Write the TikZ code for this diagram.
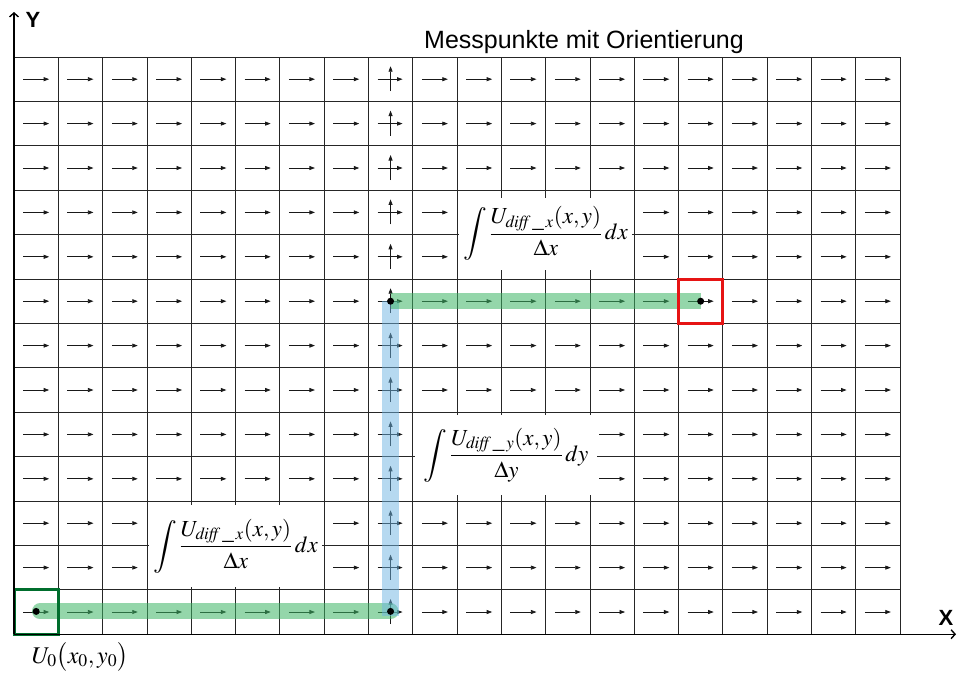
\documentclass[tikz,border=0pt]{standalone}
\usepackage{mathptmx}
\usepackage[no-math]{fontspec}
\setmainfont{Liberation Serif}
\setsansfont{Liberation Sans}
\usetikzlibrary{arrows.meta}
\definecolor{hgreen}{RGB}{60,180,100}
\definecolor{hblue}{RGB}{110,180,225}
\definecolor{boxgreen}{RGB}{0,110,45}
\definecolor{boxred}{RGB}{230,20,20}
\newcommand{\bigint}{\mathop{\vcenter{\hbox{\scalebox{1.15}{$\displaystyle\int$}}}}}
\begin{document}
\begin{tikzpicture}[x=1pt,y=-1pt,
  gridline/.style={line width=0.8pt, black!85},
  cellarrow/.style={line width=0.7pt, black!90, -{Triangle[length=5.5pt,width=4pt]}},
  axisline/.style={line width=1.4pt, -{Straight Barb[length=4pt,width=9pt]}},
  formula/.style={fill=white, inner sep=0pt, font=\fontsize{23}{27}\selectfont},
  greenpath/.style={line width=16pt, draw=hgreen, draw opacity=0.55},
  bluepath/.style={line width=17pt, draw=hblue, draw opacity=0.5},
  mdot/.style={fill=black, circle, inner sep=0pt, minimum size=7pt},
  markbox/.style={line width=3pt}]
\useasboundingbox (0,0) rectangle (957,673);
% grid
\foreach \i in {0,...,20} \draw[gridline] ({14+44.3*\i},57) -- ({14+44.3*\i},634.2);
\foreach \j in {0,...,13} \draw[gridline] (14,{57+44.4*\j}) -- (900,{57+44.4*\j});
% cell arrows
\foreach \i in {0,...,19} {
  \foreach \j in {0,...,12} {
    \pgfmathsetmacro{\cx}{14+44.3*(\i+0.5)}
    \pgfmathsetmacro{\cy}{57+44.4*(\j+0.5)}
    \ifnum\i=8
      \draw[cellarrow] ({\cx-13},\cy) -- ({\cx+12},\cy);
      \draw[cellarrow] (\cx,{\cy+12}) -- (\cx,{\cy-13});
    \else
      \draw[cellarrow] ({\cx-13},\cy) -- ({\cx+13},\cy);
    \fi
  }
}
% path points
\coordinate (p0) at (36.15,611.4);
\coordinate (p1) at (390.55,611.4);
\coordinate (p2) at (390.55,301.2);
\coordinate (p3) at (700.65,301.2);
\coordinate (p0s) at (40,611.4);
\coordinate (p1b) at (390.55,616);
% highlights
\draw[greenpath, line cap=round] (p0s) -- (p1);
\draw[bluepath] (p1b) -- (p2);
\draw[greenpath] (p2) -- (p3);
% dots
\node[mdot] (d0) at (p0) {};
\node[mdot] (d1) at (p1) {};
\node[mdot] (d2) at (p2) {};
\node[mdot] (d3) at (p3) {};
% marker boxes
\draw[markbox, boxgreen] (14,589.8) rectangle (58.3,634.2);
\draw[markbox, boxred] (678.5,279) rectangle (722.8,323.4);
% formulas
\node[formula, minimum width=173pt, minimum height=82pt] (f1) at (235.5,546)
  {$\displaystyle\bigint\frac{U_{\mathit{diff}\,\_\,x}(x,y)}{\Delta x}\,dx$};
\node[formula, minimum width=182pt, minimum height=80pt] (f2) at (506,455)
  {$\displaystyle\bigint\frac{U_{\mathit{diff}\,\_\,y}(x,y)}{\Delta y}\,dy$};
\node[formula, minimum width=173pt, minimum height=72pt] (f3) at (545.5,233.5)
  {$\displaystyle\bigint\frac{U_{\mathit{diff}\,\_\,x}(x,y)}{\Delta x}\,dx$};
% axes
\coordinate (o) at (14,634.2);
\coordinate (ytip) at (14,12);
\coordinate (xtip) at (956,634.2);
\draw[axisline] (o) -- (ytip);
\draw[axisline] (o) -- (xtip);
% labels
\node[font=\sffamily\bfseries\fontsize{22}{26}\selectfont, inner sep=0pt] (ylab) at (33,20) {Y};
\node[font=\sffamily\bfseries\fontsize{22}{26}\selectfont, inner sep=0pt] (xlab) at (946,617.5) {X};
\node[font=\sffamily\fontsize{25}{30}\selectfont, inner sep=0pt] (title) at (584,42) {Messpunkte mit Orientierung};
\node[font=\fontsize{24}{28}\selectfont, inner sep=0pt] (u0) at (80,657) {$U_0\bigl(x_0,y_0\bigr)$};
\end{tikzpicture}
\end{document}
